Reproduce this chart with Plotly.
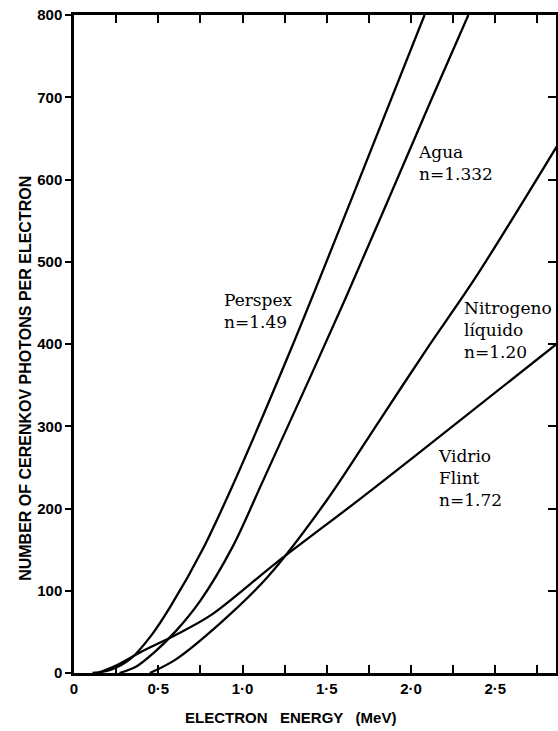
import plotly.graph_objects as go

# ---- data ----
perspex_x = [0.11, 0.22, 0.34, 0.46, 0.57, 0.77, 0.95, 1.30, 1.65, 2.08]
perspex_y = [0, 4, 18, 46, 80, 153, 232, 400, 578, 800]

agua_x = [0.27, 0.37, 0.47, 0.60, 0.75, 0.94, 1.12, 1.61, 2.12, 2.34]
agua_y = [0, 8, 24, 50, 88, 153, 233, 455, 697, 800]

nitro_x = [0.45, 0.60, 0.87, 1.15, 1.50, 1.81, 2.09, 2.38, 2.87]
nitro_y = [0, 16, 61, 117, 210, 306, 393, 480, 642]

vidrio_x = [0.14, 0.25, 0.41, 0.60, 0.81, 1.20, 1.70, 2.03, 2.87]
vidrio_y = [0, 9, 27, 46, 70, 134, 212, 265, 401]

x_tickvals = [0, 0.5, 1.0, 1.5, 2.0, 2.5]
x_ticktext = ["0", "0·5", "1·0", "1·5", "2·0", "2·5"]
y_tickvals = [0, 100, 200, 300, 400, 500, 600, 700, 800]

labels = [
    ("Perspex<br>n=1.49", 0.88, 468),
    ("Agua<br>n=1.332", 2.03, 648),
    ("Nitrogeno<br>líquido<br>n=1.20", 2.30, 458),
    ("Vidrio<br>Flint<br>n=1.72", 2.15, 279),
]

fig = go.Figure()
for xs, ys in [(perspex_x, perspex_y), (agua_x, agua_y), (nitro_x, nitro_y), (vidrio_x, vidrio_y)]:
    fig.add_trace(go.Scatter(x=xs, y=ys, mode="lines",
                             line=dict(color="black", width=2.3, shape="spline", smoothing=0.9),
                             showlegend=False, hoverinfo="skip"))

# invisible trace on secondary axis to show right-side ticks
fig.add_trace(go.Scatter(x=[0], y=[0], yaxis="y2", mode="markers",
                         marker=dict(opacity=0), showlegend=False, hoverinfo="skip"))

axis_font = dict(family="Liberation Sans", size=15, color="black", weight="bold")

fig.update_layout(
    width=558, height=731,
    margin=dict(l=74, r=2, t=15, b=58, autoexpand=False),
    paper_bgcolor="white", plot_bgcolor="white",
    xaxis=dict(range=[0, 2.86], tickvals=x_tickvals, ticktext=x_ticktext,
               ticks="inside", ticklen=8, tickwidth=1.5, tickcolor="black",
               minor=dict(dtick=0.25, tick0=0, ticks="inside", ticklen=5, tickwidth=1.5, tickcolor="black"),
               showline=True, linecolor="black", linewidth=2.5, mirror="allticks",
               showgrid=False, zeroline=False, tickfont=axis_font, automargin=False,
               ticklabeloverflow="allow"),
    yaxis=dict(range=[0, 800], tickvals=y_tickvals,
               ticks="outside", ticklen=6, tickwidth=1.5, tickcolor="black",
               showline=True, linecolor="black", linewidth=2.5, mirror=True,
               showgrid=False, zeroline=False, tickfont=axis_font, automargin=False,
               ticklabeloverflow="allow"),
    yaxis2=dict(range=[0, 800], tickvals=y_tickvals, overlaying="y", side="right",
                ticks="inside", ticklen=8, tickwidth=1.5, tickcolor="black",
                showticklabels=False, showgrid=False, zeroline=False, showline=False,
                automargin=False),
)

for text, x, y in labels:
    fig.add_annotation(x=x, y=y, text=text, showarrow=False, xanchor="left", yanchor="top",
                       align="left", font=dict(family="DejaVu Serif", size=17, color="black"))

fig.add_annotation(xref="paper", yref="paper", x=-0.102, y=(673 - 378) / 658,
                   text="NUMBER OF CERENKOV PHOTONS PER ELECTRON", textangle=-90,
                   showarrow=False, xanchor="center", yanchor="middle",
                   font=dict(family="Liberation Sans", size=16, color="black", weight="bold"))
fig.add_annotation(xref="paper", yref="paper", x=0.45, y=-0.068,
                   text="ELECTRON   ENERGY   (MeV)", showarrow=False,
                   xanchor="center", yanchor="middle",
                   font=dict(family="Liberation Sans", size=15, color="black", weight="bold"))

fig.write_html("out.html", config={"displayModeBar": False},
               post_script="document.body.style.margin='0';document.body.style.overflow='hidden';")
